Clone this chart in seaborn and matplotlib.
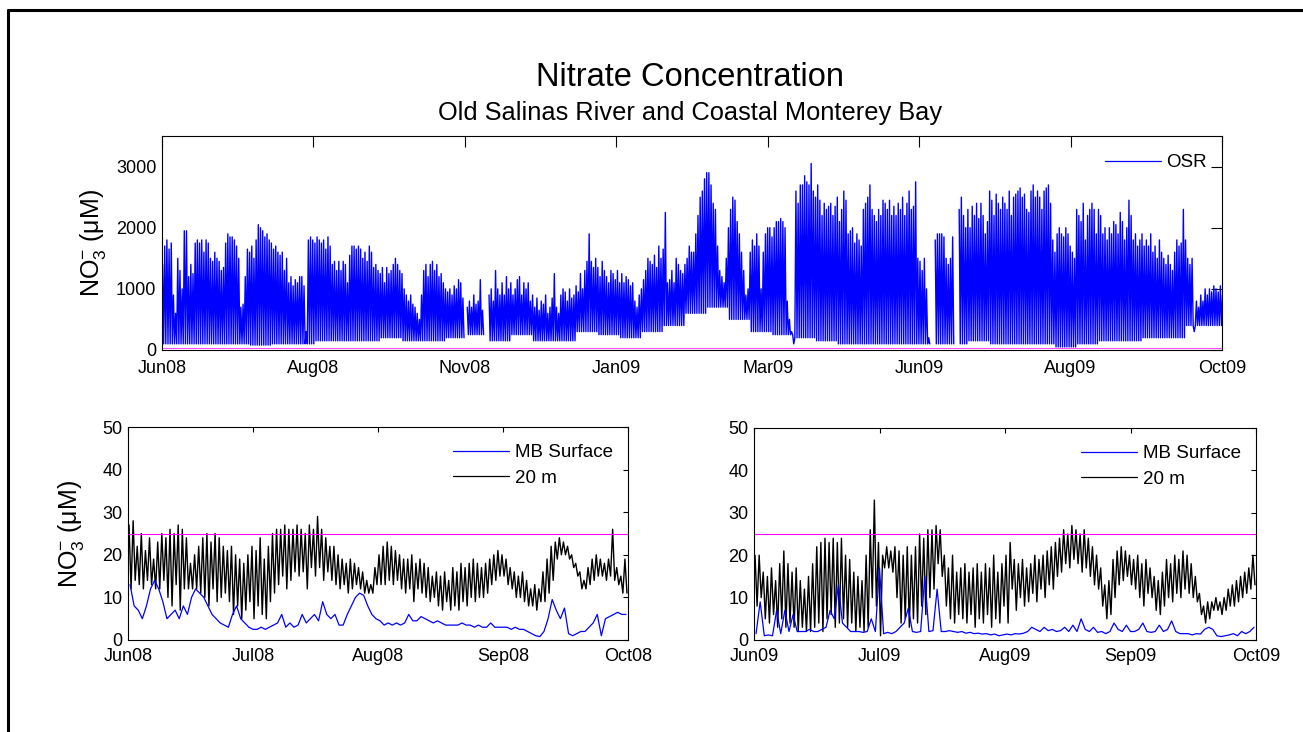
import numpy as np
import pandas as pd
import matplotlib
matplotlib.use("Agg")
import matplotlib.pyplot as plt
from matplotlib.lines import Line2D
import seaborn as sns

nan = np.nan

# ---------------------------------------------------------------- data
# Old Salinas River: daily spike maxima (uM), 1 Jun 2008 onward
osr_peak = [
    1400, 1700, 1800, 1650, 1750, 900, 600, 1500, 1300, 1000,
    1950, 1950, 1200, 1400, 1250, 1750, 1800, 1750, 1800, 1600,
    1800, 1750, 1500, 1450, 1600, 1500, 1450, 1300, 1350, 1750,
    1900, 1850, 1850, 1800, 1700, 1500, 700, 750, 1200, 1650,
    1600, 1700, 1500, 1800, 2050, 2000, 1950, 1850, 1900, 1800,
    1750, 1650, 1700, 1600, 1550, 1600, 1300, 1500, 1100, 1200,
    1050, 1150, 1100, 1200, 1200, 1050, 300, 1800, 1850, 1800,
    1750, 1850, 1800, 1750, 1800, 1650, 1850, 1700, 1400, 1450,
    1300, 1450, 1300, 1450, 1400, 1100, 1550, 1700, 1700, 1650,
    1700, 1650, 1500, 1600, 1450, 1700, 1600, 1350, 1400, 1300,
    1250, 1350, 1100, 1350, 1250, 1300, 1400, 1500, 1400, 1300,
    1250, 1000, 900, 800, 900, 750, 700, 600, 500, 900,
    1300, 1400, 1200, 1400, 1450, 1300, 1400, 1200, 1250, 1100,
    1000, 950, 1000, 900, 1050, 1000, 1150, 1100, 850, nan,
    700, 800, 700, 900, 750, 800, 1150, 650, nan, nan,
    900, 1000, 800, 1300, 1000, 900, 1100, 900, 1200, 1000,
    1100, 900, 1000, 1150, 1200, 900, 1100, 1000, 1100, 800,
    900, 700, 850, 650, 800, 750, 900, 600, 700, 850,
    1250, 700, 600, 900, 1000, 950, 800, 1000, 850, 900,
    1050, 950, 1250, 1000, 1300, 1450, 1900, 1450, 1350, 1500,
    1350, 1200, 1450, 1300, 1200, 1100, 1300, 1250, 1150, 1300,
    1100, 1250, 1100, 1200, 1150, 1050, 1100, 800, 700, 900,
    1000, 1150, 1300, 1500, 1450, 1400, 1550, 1350, 1700, 1500,
    1650, 2250, 1100, 1150, 1300, 1100, 1500, 1400, 1300, 1250,
    1400, 1500, 1700, 1600, 1600, 1900, 2200, 2500, 2600, 2800,
    2900, 2900, 2700, 2400, 2300, 1700, 1300, 1200, 1100, 1500,
    2000, 2300, 2500, 2450, 2100, 1900, 1600, 1300, 900, 1000,
    1600, 1800, 1700, 1900, 1700, 1000, 1600, 1900, 2000, 2000,
    1850, 2000, 2100, 2100, 2150, 2100, 2000, 800, 500, 300,
    100, 2600, 2400, 2700, 2700, 2850, 2750, 2700, 3050, 2600,
    2500, 2700, 2450, 2200, 2400, 2300, 2350, 2400, 2200, 2350,
    2500, 2100, 2300, 2600, 2450, 1900, 1950, 2000, 1750, 1900,
    1800, 1700, 2300, 2400, 2500, 2700, 2300, 2200, 2100, 2300,
    2200, 2450, 2400, 2300, 2450, 2200, 2350, 2200, 2400, 2300,
    2500, 2200, 2400, 2600, 2300, 2350, 2750, 1500, 1450, 1300,
    1500, 1000, 200, nan, nan, 1800, 1900, 1900, 1900, 1850,
    1500, 1400, 1500, 1850, nan, nan, 2300, 2500, 2200, 2000,
    2300, 2000, 2350, 2200, 2400, 2150, 2400, 2200, 1900, 2100,
    2600, 2450, 2200, 2550, 2400, 2300, 2500, 2400, 2300, 2600,
    2200, 2500, 2550, 2600, 2650, 2500, 2550, 2300, 2250, 2600,
    2700, 2500, 2600, 2500, 2300, 2600, 2650, 2700, 2400, 1800,
    1600, 1900, 2000, 1900, 1850, 2000, 1900, 1700, 1600, 1500,
    2300, 2200, 2100, 2400, 1800, 2200, 2300, 2400, 2300, 1900,
    2300, 2200, 1900, 2000, 1800, 2000, 1900, 2100, 2050, 1900,
    2250, 2100, 1800, 2000, 2450, 2200, 1800, 1900, 1700, 1800,
    1900, 1700, 1800, 1700, 1900, 1600, 1700, 1500, 1800, 1600,
    1500, 1400, 1550, 1400, 1300, 1600, 1800, 1700, 1750, 2300,
    1800, 1500, 1400, 1500, 300, 800, 700, 900, 800, 1000,
    900, 1000, 950, 1050, 1000, 950, 1050, 900,
]
# Old Salinas River: minima between spikes, one value per 10-day block (uM)
osr_trough = [
    100, 100, 100, 100, 80, 100, 100, 150, 150, 150,
    200, 150, 150, 200, 250, 150, 250, 150, 150, 300,
    250, 200, 300, 400, 600, 700, 500, 300, 250, 200,
    150, 100, 100, 100, 100, 100, 100, 150, 100, 100,
    100, 50, 100, 150, 150, 200, 200, 400, 400,
]
osr_ticklabels = ["Jun08", "Aug08", "Nov08", "Jan09", "Mar09", "Jun09", "Aug09", "Oct09"]
osr_span_days = 487

# Monterey Bay mooring, 1 Jun - 1 Oct 2008 (uM, daily)
mb20_2008_high = [
    27, 28, 22, 25, 21, 24, 19, 23, 25, 24, 26, 25, 27, 26, 24, 18, 20, 22, 24, 25,
    23, 25, 24, 22, 21, 22, 20, 19, 18, 20, 22, 21, 24, 19, 22, 25, 26, 26, 27, 26,
    26, 27, 26, 25, 27, 26, 29, 26, 24, 22, 22, 20, 19, 18, 19, 18, 17, 16, 14, 13,
    17, 20, 22, 23, 22, 21, 20, 19, 19, 20, 18, 19, 18, 17, 15, 16, 15, 16, 14, 17,
    16, 18, 17, 18, 19, 18, 17, 18, 19, 20, 21, 20, 19, 17, 16, 15, 16, 14, 12, 13,
    12, 16, 19, 22, 23, 24, 23, 22, 20, 18, 16, 14, 17, 19, 20, 19, 18, 19, 26, 17,
    15, 19,
]
mb20_2008_low = [
    12, 14, 13, 12, 14, 13, 12, 12, 14, 10, 8, 13, 7, 12, 12, 12, 12, 11, 10, 8,
    12, 9, 10, 11, 9, 6, 8, 5, 7, 9, 5, 8, 6, 5, 9, 11, 13, 15, 12, 14,
    16, 15, 16, 12, 17, 15, 17, 14, 16, 14, 13, 12, 13, 11, 12, 13, 12, 11, 11, 11,
    13, 13, 13, 14, 13, 14, 12, 11, 12, 9, 12, 11, 10, 9, 10, 8, 7, 9, 7, 8,
    7, 9, 8, 10, 9, 10, 10, 11, 13, 14, 15, 15, 13, 12, 10, 10, 9, 8, 8, 7,
    9, 9, 11, 14, 19, 20, 20, 19, 17, 15, 12, 12, 13, 14, 15, 15, 14, 15, 14, 13,
    11, 11,
]
mbsurf_2008 = [
    13, 8, 7, 5, 8, 12, 14, 12, 9, 5, 6, 7, 5, 8, 6, 10, 12, 11, 10, 8,
    6, 5, 4, 3.5, 3, 6, 8, 5, 4, 3, 2.5, 2.5, 3, 2.5, 3, 3.5, 4, 6, 3, 4,
    3, 3.5, 6, 4, 5, 6, 4.5, 9, 6, 5, 6, 3.5, 3.5, 6, 8, 10, 11, 10.5, 8, 6,
    5, 4.5, 3.5, 4, 3.5, 4, 3.5, 4, 6, 4.5, 4.5, 5.5, 5, 4.5, 4, 4.5, 4, 3.5, 3.5, 3.5,
    3.5, 4, 3.5, 3.5, 3, 3.5, 3, 3, 4, 3, 3, 3, 3, 2.5, 3, 2.5, 2.5, 2, 1.5, 1,
    0.8, 2, 5, 9.5, 7, 5, 7.5, 1.5, 1, 1.5, 2, 2, 3, 4, 6, 1, 5, 5.5, 6, 6.5,
    6, 6,
]
ticklabels_2008 = ["Jun08", "Jul08", "Aug08", "Sep08", "Oct08"]

# Monterey Bay mooring, 1 Jun - 1 Oct 2009 (uM, daily)
mb20_2009_high = [
    20, 20, 16, 15, 17, 14, 18, 21, 18, 16, 17, 14, 12, 15, 18, 22, 23, 24, 23, 24,
    23, 24, 20, 19, 16, 15, 14, 20, 26, 33, 23, 20, 22, 21, 22, 21, 20, 22, 20, 22,
    25, 24, 26, 26, 27, 26, 20, 17, 20, 16, 17, 18, 16, 17, 18, 16, 18, 17, 20, 16,
    18, 20, 23, 19, 18, 19, 17, 18, 20, 19, 20, 21, 22, 23, 24, 26, 25, 27, 26, 25,
    26, 24, 22, 20, 17, 13, 14, 19, 21, 22, 21, 20, 19, 20, 18, 19, 17, 15, 14, 16,
    19, 18, 20, 19, 21, 20, 18, 15, 11, 8, 9, 9, 10, 9, 10, 12, 13, 14, 15, 16,
    17, 20,
]
mb20_2009_low = [
    8, 10, 5, 4, 6, 3, 5, 3, 4, 3, 2, 3, 2, 2, 3, 4, 2, 5, 6, 3,
    4, 5, 3, 4, 2, 3, 2, 3, 10, 8, 1, 17, 17, 16, 10, 4, 5, 3, 5, 4,
    8, 6, 10, 12, 18, 15, 8, 5, 4, 6, 5, 4, 6, 3, 5, 4, 6, 3, 5, 4,
    8, 4, 12, 7, 10, 8, 9, 11, 9, 12, 10, 13, 12, 15, 16, 18, 17, 19, 18, 16,
    17, 15, 13, 12, 8, 5, 6, 10, 13, 14, 15, 13, 12, 10, 8, 11, 10, 7, 6, 8,
    10, 9, 11, 10, 12, 11, 10, 9, 6, 4, 5, 7, 7, 6, 7, 8, 8, 9, 10, 11,
    12, 13,
]
mbsurf_2009 = [
    1.5, 9, 1, 1.2, 1, 7, 1.5, 7, 2, 6, 2, 2, 2, 2.5, 2, 2, 2.5, 3, 7, 5,
    13, 4, 3, 2, 2, 2, 1.8, 2, 5, 2, 17, 1.5, 1.8, 1.5, 2, 3, 4, 7.5, 2, 1.8,
    2, 15, 2, 2.2, 12, 2, 2, 2.2, 2, 1.8, 2, 1.6, 1.8, 1.5, 1.6, 1.4, 1.5, 1.2, 1.4, 1,
    1.2, 1.4, 1.2, 1.5, 1.4, 1.6, 2, 3, 2.5, 2, 3, 2.2, 2.5, 2, 2.2, 3, 2, 3.5, 2, 5,
    2.5, 2, 3, 1.8, 2, 1.5, 2, 4, 2.5, 2, 3.5, 2, 2, 2.5, 4, 2, 1.8, 2, 3.5, 2,
    2.5, 4.5, 2, 1.5, 1.5, 1.5, 1.2, 1.5, 1.4, 2.5, 3, 2.5, 1, 0.8, 1, 1.2, 1.5, 1, 2, 1.5,
    2, 3,
]
ticklabels_2009 = ["Jun09", "Jul09", "Aug09", "Sep09", "Oct09"]
season_span_days = 122

reference_level = 25  # uM

BLUE = "#0000FF"
BLACK = "#000000"
MAGENTA = "#FF00FF"


def spike_frame(highs, lows_for_day):
    """Alternate daily maxima and minima; a missing maximum breaks the line."""
    rows, seg = [], 0
    for d, hi in enumerate(highs):
        if np.isnan(hi):
            seg += 1
            continue
        rows.append((d + 0.25, hi, seg))
        rows.append((d + 0.75, lows_for_day(d), seg))
    return pd.DataFrame(rows, columns=["day", "no3", "seg"])


# ---------------------------------------------------------------- style
sns.set_style("white")
plt.rcParams["font.family"] = ["Liberation Sans", "DejaVu Sans"]
plt.rcParams["mathtext.fontset"] = "custom"
plt.rcParams["mathtext.rm"] = "Liberation Sans"
plt.rcParams["mathtext.it"] = "Liberation Sans"
for key in ("text.color", "axes.labelcolor", "xtick.color", "ytick.color",
            "axes.edgecolor"):
    plt.rcParams[key] = "black"
plt.rcParams["axes.linewidth"] = 0.8

fig = plt.figure(figsize=(13.03, 7.32), dpi=100)
fig.patch.set_facecolor("white")

W, H = 1303, 732
def box(x0, y0, x1, y1):
    return [x0 / W, 1 - y1 / H, (x1 - x0) / W, (y1 - y0) / H]

ax_top = fig.add_axes(box(162, 136, 1222, 350))
ax_bl = fig.add_axes(box(128, 427, 628, 640))
ax_br = fig.add_axes(box(754, 428, 1256, 640))

ylabel = r"NO$_3^{-}$ (μM)"
TICK_FS = 13

# ---- top panel: Old Salinas River
osr_df = spike_frame(osr_peak, lambda d: osr_trough[d // 10])
sns.lineplot(data=osr_df, x="day", y="no3", units="seg", estimator=None,
             sort=False, color=BLUE, lw=1.0, ax=ax_top, legend=False)
ax_top.axhline(reference_level, color=MAGENTA, lw=0.8, alpha=0.7)
ax_top.set_xlim(0, osr_span_days)
ax_top.set_ylim(0, 3500)
ax_top.set_xticks(np.linspace(0, osr_span_days, len(osr_ticklabels)))
ax_top.set_xticklabels(osr_ticklabels)
ax_top.set_yticks([0, 1000, 2000, 3000])
ax_top.set_ylabel(ylabel, fontsize=18)
ax_top.yaxis.set_label_coords(-0.051, 0.5)
ax_top.set_xlabel("")
ax_top.tick_params(axis="both", direction="in", top=True, right=True,
                   length=7.6, width=0.8, labelsize=TICK_FS)
ax_top.tick_params(axis="x", pad=7)
ax_top.tick_params(axis="y", pad=4)
ax_top.legend(handles=[Line2D([], [], color=BLUE, lw=0.9, label="OSR")],
              loc="upper right", bbox_to_anchor=(0.986, 0.915), frameon=False,
              fontsize=13.5, handlelength=3.0, handletextpad=0.3,
              borderpad=0, borderaxespad=0)

fig.text(0.5296, 1 - 78 / H, "Nitrate Concentration", ha="center",
         va="center", fontsize=23.5)
fig.text(0.5296, 1 - 113 / H, "Old Salinas River and Coastal Monterey Bay",
         ha="center", va="center", fontsize=18.3)

# ---- bottom panels: Monterey Bay surface and 20 m
def season_panel(ax, highs, lows, surface, ticklabels, show_ylabel):
    deep = spike_frame(highs, lambda d: lows[d])
    surf = pd.DataFrame({"day": np.arange(len(surface)) + 0.5,
                         "no3": surface})
    sns.lineplot(data=deep, x="day", y="no3", units="seg", estimator=None,
                 sort=False, color=BLACK, lw=1.0, ax=ax, legend=False)
    sns.lineplot(data=surf, x="day", y="no3", estimator=None, sort=False,
                 color=BLUE, lw=0.9, ax=ax, legend=False)
    ax.axhline(reference_level, color=MAGENTA, lw=0.8)
    ax.set_xlim(0, season_span_days)
    ax.set_ylim(0, 50)
    ax.set_xticks(np.linspace(0, season_span_days, len(ticklabels)))
    ax.set_xticklabels(ticklabels)
    ax.set_yticks(np.arange(0, 51, 10))
    ax.set_xlabel("")
    if show_ylabel:
        ax.set_ylabel(ylabel, fontsize=18)
        ax.yaxis.set_label_coords(-0.085, 0.5)
    else:
        ax.set_ylabel("")
    ax.tick_params(axis="both", direction="in", top=True, right=True,
                   length=3.6, width=0.8, labelsize=TICK_FS)
    ax.tick_params(axis="x", pad=6)
    ax.tick_params(axis="y", pad=4)
    handles = [Line2D([], [], color=BLUE, lw=0.9, label="MB Surface"),
               Line2D([], [], color=BLACK, lw=0.9, label="20 m")]
    ax.legend(handles=handles, loc="upper right", bbox_to_anchor=(0.97, 0.92),
              frameon=False, fontsize=13.5, handlelength=3.0,
              handletextpad=0.3, labelspacing=0.45, borderpad=0,
              borderaxespad=0)


season_panel(ax_bl, mb20_2008_high, mb20_2008_low, mbsurf_2008,
             ticklabels_2008, True)
season_panel(ax_br, mb20_2009_high, mb20_2009_low, mbsurf_2009,
             ticklabels_2009, False)

for ax in (ax_top, ax_bl, ax_br):
    for s in ax.spines.values():
        s.set_visible(True)
        s.set_color("black")
        s.set_linewidth(0.8)

# figure frame (top and left edges)
fig.add_artist(Line2D([8 / W, 1.0], [1 - 10 / H, 1 - 10 / H],
                      transform=fig.transFigure, color="black", lw=2.2))
fig.add_artist(Line2D([8 / W, 8 / W], [0.0, 1 - 10 / H],
                      transform=fig.transFigure, color="black", lw=2.2))

fig.savefig("out.png", dpi=100, facecolor="white")
